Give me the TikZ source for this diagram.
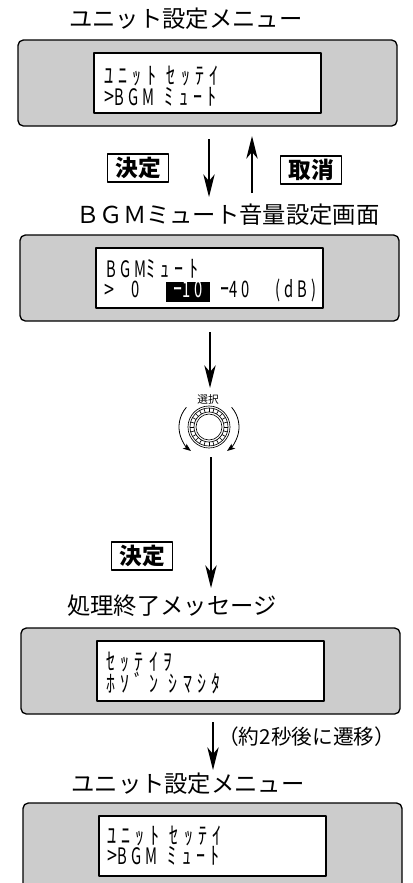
\documentclass[tikz,border=0pt]{standalone}
\usepackage{fontspec}
\setmainfont{Noto Sans CJK JP}
\newfontfamily\lcdkana{Noto Sans CJK JP}[FakeStretch=0.75,LetterSpace=22]
\newfontfamily\lcdlatin{Noto Sans CJK JP}[FakeStretch=0.65,LetterSpace=18]
\newcommand\lat[1]{{\lcdlatin\fontsize{17}{17}\selectfont#1}}
\newcommand\gap{\hspace{8pt}}
\usetikzlibrary{arrows.meta}
\definecolor{panelgray}{RGB}{204,204,204}
\tikzset{
    panel/.style={draw,line width=1pt,fill=panelgray,rounded corners=4pt},
    lcd/.style={draw,line width=1.4pt,fill=white},
    screentitle/.style={inner sep=0pt,font=\fontsize{17.5}{18}\selectfont},
    lcdline/.style={anchor=base west,inner sep=0pt,text height=11pt,text depth=0pt,font=\lcdkana\fontsize{18}{18}\selectfont},
    lcdsel/.style={lcdline,fill=black,text=white,text depth=3.5pt,inner ysep=0.2pt,minimum width=33pt},
    keybox/.style={draw,line width=0.8pt,inner sep=0pt,minimum width=46pt,minimum height=21pt,font=\bfseries\fontsize{17}{17}\selectfont},
    flow/.style={line width=1.1pt,-{Stealth[length=17pt,width=8.5pt,inset=5pt]}},
    turn/.style={line width=0.6pt,-{Stealth[length=6pt,width=4.5pt,inset=1.5pt]}},
}
\begin{document}
\begin{tikzpicture}[x=0.75pt,y=-0.75pt,line join=round]
    \useasboundingbox (0,0) rectangle (413,883);
    \clip (0,0) rectangle (413,883);

    \foreach \x/\y in {18/40,20/235,21/628,23/803} {
        \draw[panel] (\x,\y) rectangle ++(379,86);
        \draw[lcd] (\x+76,\y+13) rectangle ++(227,60);
    }

    \node[screentitle] (menu-top) at (186,19) {ユニット設定メニュー};
    \node[screentitle] (mute-title) at (228,215) {ＢＧＭミュート音量設定画面};
    \node[screentitle] (done-title) at (172,606) {処理終了メッセージ};
    \node[screentitle] (menu-end) at (188,784) {ユニット設定メニュー};

    \node[lcdline] (menu-top-1) at (104,84) {ﾕﾆｯﾄ\gap ｾｯﾃｲ};
    \node[lcdline] (menu-top-2) at (104,105) {>\lat{BGM}\gap ﾐｭｰﾄ};
    \node[lcdline] (mute-1) at (106,277) {\lat{BGM}ﾐｭｰﾄ};
    \node[lcdline] (mute-2) at (104,298) {>};
    \node[lcdline] (mute-0) at (131,297) {\lat{0}};
    \node[lcdsel] (mute-10) at (166,297) {ｰ\lat{10}};
    \node[lcdline] (mute-40) at (220,297) {ｰ\lat{40}};
    \node[lcdline] (mute-db) at (275,297) {\lat{(dB)}};
    \node[lcdline] (done-1) at (106,670) {ｾｯﾃｲｦ};
    \node[lcdline] (done-2) at (106,692) {ﾎｿﾞﾝ\gap ｼﾏｼﾀ};
    \node[lcdline] (menu-end-1) at (107,844) {ﾕﾆｯﾄ\gap ｾｯﾃｲ};
    \node[lcdline] (menu-end-2) at (107,864) {>\lat{BGM}\gap ﾐｭｰﾄ};

    \node[keybox] (enter-1) at (138,168) {決定};
    \node[keybox] (cancel) at (311,170) {取消};
    \node[keybox] (enter-2) at (142,556) {決定};

    \node[inner sep=0pt,font=\fontsize{8}{8}\selectfont] (select) at (208,399) {選択};
    \coordinate (knob) at (209,427);
    \foreach \r in {21,19,15,13} {
        \draw[line width=0.5pt] (knob) circle[radius=\r];
    }
    \foreach \a in {0,15,...,345} {
        \draw[line width=0.5pt] (knob) ++(\a:15) -- ++(\a:4);
    }
    \draw[turn] (knob) ++(221:30) arc[start angle=221,end angle=127,radius=30];
    \draw[turn] (knob) ++(-41:30) arc[start angle=-41,end angle=53,radius=30];

    \coordinate (go-a) at (209,139);
    \coordinate (go-b) at (209,197);
    \coordinate (back-a) at (252,193);
    \coordinate (back-b) at (252,136);
    \coordinate (turn-in) at (210,332);
    \coordinate (turn-at) at (210,388);
    \coordinate (turn-out) at (211,457);
    \coordinate (done-in) at (211,588);
    \coordinate (wait-a) at (213,722);
    \coordinate (wait-b) at (213,770);
    \draw[flow] (go-a) -- (go-b);
    \draw[flow] (back-a) -- (back-b);
    \draw[flow] (turn-in) -- (turn-at);
    \draw[flow] (turn-out) -- (done-in);
    \draw[flow] (wait-a) -- (wait-b);
    \node[anchor=west,inner sep=0pt,font=\fontsize{15.5}{16}\selectfont] (wait) at (218,737) {（約2秒後に遷移）};
\end{tikzpicture}
\end{document}
